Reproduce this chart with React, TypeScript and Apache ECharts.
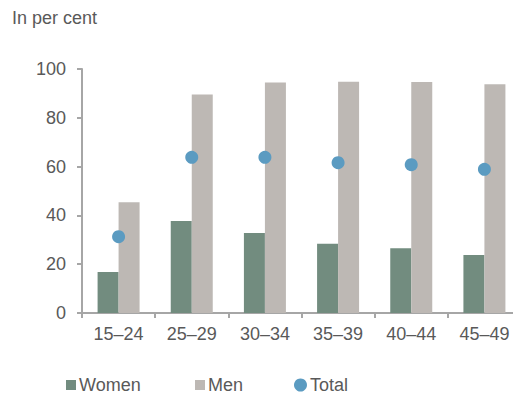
import React, { useEffect, useRef } from "react";
import * as echarts from "echarts";

const categories = ["15–24", "25–29", "30–34", "35–39", "40–44", "45–49"];
const women = [16.8, 37.7, 32.8, 28.4, 26.5, 23.8];
const men = [45.4, 89.5, 94.5, 94.8, 94.7, 93.7];
const total = [31.3, 63.8, 63.8, 61.6, 60.8, 58.9];
const yTicks = { min: 0, max: 100, interval: 20 };

const FONT = "'Liberation Sans', Arial, sans-serif";
const TEXT = "#595959";
const AXIS = "#a6a6a6";

const legendItem = (name: string, icon: string, left: number, size: number) => ({
  left,
  top: 376,
  padding: 0,
  itemWidth: size,
  itemHeight: size,
  textStyle: { fontFamily: FONT, fontSize: 18, color: TEXT, padding: [0, 0, 0, -2] },
  data: [{ name, icon }],
});

export default function App() {
  const ref = useRef<HTMLDivElement>(null);
  useEffect(() => {
    if (!ref.current) return;
    const chart = echarts.init(ref.current, undefined, { renderer: "svg" });
    chart.setOption({
      animation: false,
      textStyle: { fontFamily: FONT },
      title: {
        text: "In per cent",
        left: 12,
        top: 9,
        padding: 0,
        textStyle: { fontFamily: FONT, fontSize: 18, fontWeight: "normal", color: TEXT },
      },
      legend: [
        legendItem("Women", "rect", 66, 10),
        legendItem("Men", "rect", 195, 10),
        legendItem("Total", "circle", 294, 13),
      ],
      grid: { left: 82, right: 0, top: 69, bottom: 81, containLabel: false },
      xAxis: {
        type: "category",
        data: categories,
        axisLine: { lineStyle: { color: AXIS, width: 2 } },
        axisTick: { show: true, length: 5, lineStyle: { color: AXIS, width: 2 } },
        axisLabel: { fontFamily: FONT, fontSize: 18, color: TEXT, margin: 12 },
      },
      yAxis: {
        type: "value",
        min: yTicks.min,
        max: yTicks.max,
        interval: yTicks.interval,
        splitLine: { show: false },
        axisLine: { show: true, lineStyle: { color: AXIS, width: 2 } },
        axisTick: { show: true, length: 5, lineStyle: { color: AXIS, width: 2 } },
        axisLabel: { fontFamily: FONT, fontSize: 18, color: TEXT, margin: 16 },
      },
      series: [
        {
          name: "Women",
          type: "bar",
          data: women,
          barWidth: 21,
          barGap: "0%",
          itemStyle: { color: "#728c7f" },
        },
        {
          name: "Men",
          type: "bar",
          data: men,
          barWidth: 21,
          barGap: "0%",
          itemStyle: { color: "#bdb8b4" },
        },
        {
          name: "Total",
          type: "scatter",
          data: total,
          symbol: "circle",
          symbolSize: 13,
          z: 5,
          itemStyle: { color: "#5b9bc1", opacity: 1 },
        },
      ],
    });
    return () => chart.dispose();
  }, []);
  return (
    <div
      style={{ position: "absolute", left: 0, top: 0, width: 513, height: 394, overflow: "hidden" }}
    >
      <div ref={ref} style={{ width: 521, height: 394 }} />
    </div>
  );
}
